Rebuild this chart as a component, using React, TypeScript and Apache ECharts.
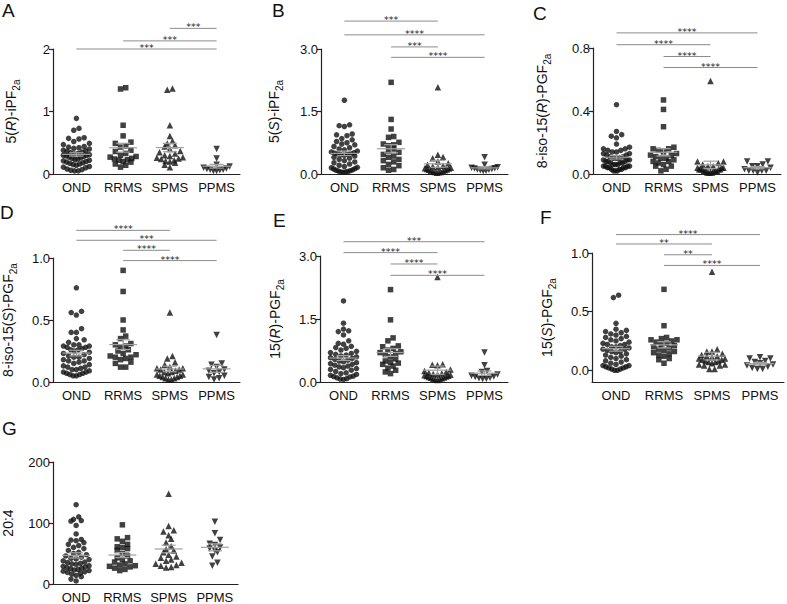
import React, { useEffect, useRef } from 'react';
import * as echarts from 'echarts';

const categories = ['OND', 'RRMS', 'SPMS', 'PPMS'];

// Panel A: 5(R)-iPF2a
const aOND = [0.89, 0.73, 0.70, 0.58, 0.57, 0.56, 0.52, 0.49, 0.47, 0.44, 0.43, 0.42, 0.41, 0.40, 0.38, 0.37, 0.36, 0.35, 0.34, 0.33, 0.32, 0.31, 0.30, 0.30, 0.29, 0.28, 0.27, 0.26, 0.25, 0.24, 0.23, 0.22, 0.21, 0.20, 0.19, 0.18, 0.17, 0.16, 0.15, 0.14, 0.12, 0.11, 0.10, 0.08, 0.07, 0.06, 0.05, 0.05];
const aRRMS = [1.38, 1.36, 0.78, 0.61, 0.51, 0.49, 0.45, 0.43, 0.38, 0.36, 0.33, 0.30, 0.28, 0.27, 0.25, 0.24, 0.23, 0.22, 0.20, 0.19, 0.16, 0.14, 0.11];
const aSPMS = [1.37, 1.35, 0.78, 0.61, 0.53, 0.49, 0.46, 0.44, 0.40, 0.37, 0.35, 0.33, 0.30, 0.29, 0.27, 0.26, 0.25, 0.24, 0.22, 0.21, 0.20, 0.18, 0.15, 0.11];
const aPPMS = [0.40, 0.25, 0.15, 0.12, 0.10, 0.09, 0.08, 0.07, 0.07, 0.06, 0.05, 0.05];

// Panel B: 5(S)-iPF2a
const bOND = [1.77, 1.18, 1.16, 1.14, 0.96, 0.94, 0.92, 0.85, 0.82, 0.78, 0.75, 0.72, 0.70, 0.66, 0.63, 0.60, 0.58, 0.55, 0.53, 0.51, 0.50, 0.49, 0.48, 0.47, 0.46, 0.45, 0.43, 0.40, 0.38, 0.35, 0.32, 0.29, 0.27, 0.24, 0.21, 0.18, 0.16, 0.15, 0.13, 0.12, 0.10, 0.09, 0.08, 0.07, 0.06, 0.05, 0.05, 0.04];
const bRRMS = [2.20, 1.31, 1.08, 0.90, 0.88, 0.76, 0.72, 0.70, 0.68, 0.60, 0.55, 0.52, 0.47, 0.43, 0.40, 0.35, 0.32, 0.29, 0.23, 0.20, 0.15, 0.11, 0.09];
const bSPMS = [2.08, 0.46, 0.41, 0.38, 0.30, 0.26, 0.22, 0.20, 0.18, 0.16, 0.15, 0.14, 0.13, 0.12, 0.11, 0.10, 0.09, 0.08, 0.07, 0.06, 0.05, 0.05, 0.04, 0.03];
const bPPMS = [0.40, 0.22, 0.16, 0.15, 0.14, 0.13, 0.12, 0.11, 0.10, 0.09, 0.08, 0.07];

// Panel C: 8-iso-15(R)-PGF2a
const cOND = [0.44, 0.27, 0.25, 0.24, 0.23, 0.19, 0.17, 0.16, 0.16, 0.15, 0.15, 0.14, 0.14, 0.13, 0.13, 0.12, 0.12, 0.11, 0.11, 0.10, 0.10, 0.10, 0.09, 0.09, 0.09, 0.08, 0.08, 0.08, 0.07, 0.07, 0.07, 0.06, 0.06, 0.06, 0.05, 0.05, 0.05, 0.05, 0.04, 0.04, 0.04, 0.04, 0.03, 0.03, 0.03, 0.02, 0.02, 0.02];
const cRRMS = [0.47, 0.41, 0.30, 0.17, 0.16, 0.16, 0.15, 0.14, 0.13, 0.12, 0.12, 0.11, 0.10, 0.10, 0.09, 0.08, 0.08, 0.07, 0.06, 0.05, 0.05, 0.03, 0.02];
const cSPMS = [0.59, 0.08, 0.08, 0.07, 0.06, 0.05, 0.05, 0.04, 0.04, 0.04, 0.03, 0.03, 0.03, 0.03, 0.03, 0.02, 0.02, 0.02, 0.02, 0.02, 0.01, 0.01, 0.01, 0.01];
const cPPMS = [0.08, 0.08, 0.06, 0.05, 0.05, 0.04, 0.03, 0.02, 0.02, 0.02, 0.02, 0.01];

// Panel D: 8-iso-15(S)-PGF2a
const dOND = [0.76, 0.57, 0.56, 0.54, 0.43, 0.40, 0.40, 0.35, 0.34, 0.32, 0.30, 0.30, 0.29, 0.29, 0.28, 0.28, 0.27, 0.26, 0.26, 0.25, 0.24, 0.23, 0.22, 0.21, 0.20, 0.20, 0.19, 0.18, 0.17, 0.17, 0.16, 0.15, 0.14, 0.13, 0.12, 0.12, 0.11, 0.10, 0.10, 0.09, 0.08, 0.08, 0.07, 0.07, 0.06, 0.06, 0.05, 0.05];
const dRRMS = [0.90, 0.73, 0.50, 0.42, 0.37, 0.35, 0.31, 0.30, 0.29, 0.28, 0.26, 0.25, 0.23, 0.22, 0.21, 0.20, 0.20, 0.19, 0.18, 0.16, 0.15, 0.12, 0.12];
const dSPMS = [0.56, 0.21, 0.19, 0.16, 0.14, 0.12, 0.11, 0.11, 0.10, 0.10, 0.09, 0.08, 0.08, 0.07, 0.06, 0.06, 0.05, 0.05, 0.04, 0.04, 0.03, 0.03, 0.02, 0.02];
const dPPMS = [0.38, 0.15, 0.14, 0.12, 0.10, 0.09, 0.08, 0.07, 0.05, 0.04, 0.03, 0.02];

// Panel E: 15(R)-PGF2a
const eOND = [1.93, 1.40, 1.26, 1.22, 1.20, 1.12, 0.98, 0.92, 0.90, 0.85, 0.82, 0.80, 0.76, 0.73, 0.70, 0.68, 0.66, 0.64, 0.62, 0.60, 0.58, 0.56, 0.54, 0.52, 0.50, 0.48, 0.46, 0.44, 0.42, 0.40, 0.38, 0.36, 0.34, 0.32, 0.30, 0.28, 0.25, 0.22, 0.20, 0.18, 0.16, 0.14, 0.13, 0.12, 0.10, 0.08, 0.07, 0.06];
const eRRMS = [2.20, 1.48, 1.05, 0.98, 0.86, 0.84, 0.80, 0.76, 0.72, 0.70, 0.68, 0.65, 0.60, 0.55, 0.50, 0.47, 0.45, 0.42, 0.38, 0.33, 0.28, 0.24, 0.20];
const eSPMS = [2.50, 0.42, 0.41, 0.40, 0.30, 0.26, 0.24, 0.22, 0.20, 0.19, 0.18, 0.17, 0.16, 0.15, 0.14, 0.13, 0.12, 0.11, 0.10, 0.09, 0.08, 0.07, 0.06, 0.05];
const ePPMS = [0.70, 0.40, 0.26, 0.24, 0.18, 0.15, 0.13, 0.12, 0.10, 0.09, 0.08, 0.07];

// Panel F: 15(S)-PGF2a
const fOND = [0.64, 0.62, 0.40, 0.35, 0.34, 0.33, 0.32, 0.31, 0.30, 0.29, 0.28, 0.27, 0.26, 0.25, 0.24, 0.23, 0.22, 0.22, 0.21, 0.20, 0.20, 0.19, 0.18, 0.18, 0.17, 0.16, 0.16, 0.15, 0.14, 0.13, 0.12, 0.11, 0.10, 0.09, 0.08, 0.07, 0.06, 0.05, 0.04, 0.04, 0.03, 0.03, 0.02, 0.02, 0.01, 0.01, 0.00, 0.00];
const fRRMS = [0.69, 0.38, 0.28, 0.27, 0.26, 0.26, 0.25, 0.24, 0.23, 0.22, 0.21, 0.20, 0.19, 0.18, 0.17, 0.16, 0.15, 0.14, 0.13, 0.12, 0.10, 0.09, 0.06];
const fSPMS = [0.84, 0.18, 0.16, 0.16, 0.14, 0.13, 0.12, 0.12, 0.11, 0.10, 0.10, 0.09, 0.09, 0.08, 0.08, 0.07, 0.07, 0.06, 0.05, 0.05, 0.04, 0.04, 0.01, 0.01];
const fPPMS = [0.11, 0.10, 0.10, 0.08, 0.07, 0.06, 0.05, 0.04, 0.03, 0.02, 0.01, 0.01];

// Panel G: 20:4
const gOND = [130, 110, 106, 104, 103, 96, 82, 73, 72, 71, 68, 65, 63, 60, 58, 55, 52, 50, 48, 46, 44, 42, 41, 40, 38, 36, 35, 34, 33, 32, 30, 29, 28, 27, 26, 25, 24, 23, 22, 21, 20, 19, 18, 16, 14, 12, 8, 5];
const gRRMS = [97, 76, 74, 70, 65, 61, 60, 58, 55, 50, 46, 43, 40, 38, 36, 33, 31, 30, 29, 28, 26, 24, 22];
const gSPMS = [148, 95, 88, 86, 80, 74, 68, 62, 57, 55, 52, 48, 45, 43, 40, 38, 35, 33, 31, 30, 28, 27];
const gPPMS = [102, 83, 72, 66, 64, 60, 58, 55, 52, 45, 35, 30];

// Y tick values
const yTicksA = [0, 1, 2];
const yTicksB = [0, 1.5, 3];
const yTicksC = [0, 0.4, 0.8];
const yTicksD = [0, 0.5, 1];
const yTicksE = [0, 1.5, 3];
const yTicksF = [0, 0.5, 1];
const yTicksG = [0, 100, 200];

// Significance comparisons: [fromGroup, toGroup, height (axis units), label]
const sigA: [number, number, number, string][] = [[0, 3, 2.0, '***'], [1, 3, 2.13, '***'], [2, 3, 2.33, '***']];
const sigB: [number, number, number, string][] = [[1, 3, 2.8, '****'], [1, 2, 3.05, '***'], [0, 3, 3.34, '****'], [0, 2, 3.67, '***']];
const sigC: [number, number, number, string][] = [[1, 3, 0.676, '****'], [1, 2, 0.746, '****'], [0, 2, 0.821, '****'], [0, 3, 0.896, '****']];
const sigD: [number, number, number, string][] = [[1, 3, 0.979, '****'], [1, 2, 1.062, '****'], [0, 3, 1.143, '***'], [0, 2, 1.223, '****']];
const sigE: [number, number, number, string][] = [[1, 3, 2.54, '****'], [1, 2, 2.81, '****'], [0, 2, 3.08, '****'], [0, 3, 3.34, '***']];
const sigF: [number, number, number, string][] = [[1, 3, 0.894, '****'], [1, 2, 0.985, '**'], [0, 2, 1.077, '**'], [0, 3, 1.157, '****']];
const sigG: [number, number, number, string][] = [];

const FONT = "'Liberation Sans', Arial, Helvetica, sans-serif";
const STAR_FONT = "'DejaVu Sans', 'Liberation Sans', sans-serif";

const PANELS = [
  { letter: 'A', lx: 2, ly: 1, left: 53, top: 49, width: 187, height: 125, min: 0, max: 2, ticks: yTicksA, dec: 0, nameGap: 32,
    name: '{n|5(}{i|R}{n|)-iPF}{s|2a}', groups: [aOND, aRRMS, aSPMS, aPPMS], sig: sigA },
  { letter: 'B', lx: 272, ly: 1, left: 321, top: 49, width: 187, height: 125, min: 0, max: 3, ticks: yTicksB, dec: 1, nameGap: 37,
    name: '{n|5(}{i|S}{n|)-iPF}{s|2a}', groups: [bOND, bRRMS, bSPMS, bPPMS], sig: sigB },
  { letter: 'C', lx: 533, ly: 4, left: 593, top: 48, width: 188, height: 126, min: 0, max: 0.8, ticks: yTicksC, dec: 1, nameGap: 41,
    name: '{n|8-iso-15(}{i|R}{n|)-PGF}{s|2a}', groups: [cOND, cRRMS, cSPMS, cPPMS], sig: sigC },
  { letter: 'D', lx: 0, ly: 203, left: 52, top: 258, width: 188, height: 124, min: 0, max: 1, ticks: yTicksD, dec: 1, nameGap: 35,
    name: '{n|8-iso-15(}{i|S}{n|)-PGF}{s|2a}', groups: [dOND, dRRMS, dSPMS, dPPMS], sig: sigD },
  { letter: 'E', lx: 273, ly: 211, left: 320, top: 256, width: 188, height: 126, min: 0, max: 3, ticks: yTicksE, dec: 1, nameGap: 35,
    name: '{n|15(}{i|R}{n|)-PGF}{s|2a}', groups: [eOND, eRRMS, eSPMS, ePPMS], sig: sigE },
  { letter: 'F', lx: 540, ly: 208, left: 592, top: 253, width: 192, height: 129, min: -0.1, max: 1, ticks: yTicksF, dec: 1, nameGap: 35,
    name: '{n|15(}{i|S}{n|)-PGF}{s|2a}', groups: [fOND, fRRMS, fSPMS, fPPMS], sig: sigF },
  { letter: 'G', lx: 2, ly: 419, left: 52, top: 462, width: 186, height: 122, min: 0, max: 200, ticks: yTicksG, dec: 0, nameGap: 35,
    name: '{n|20:4}', groups: [gOND, gRRMS, gSPMS, gPPMS], sig: sigG },
];

const SYMBOLS = [
  { symbol: 'circle', size: 5.5, rotate: 0 },
  { symbol: 'rect', size: 5.5, rotate: 0 },
  { symbol: 'triangle', size: 6.5, rotate: 0 },
  { symbol: 'triangle', size: 6.5, rotate: 180 },
];

// Prism-like row layout: values within one marker height share a row, spread side by side
function rowLayout(values: number[], pxPerY: number, pxPerX: number, d: number, maxHalf: number): number[] {
  const order = values.map((_, i) => i).sort((a, b) => values[a] - values[b]);
  const xs: number[] = new Array(values.length).fill(0);
  let bin: number[] = [];
  let start = -Infinity;
  const flush = () => {
    const k = bin.length;
    if (!k) return;
    const s = k > 1 ? Math.min(d, (2 * maxHalf) / (k - 1)) : 0;
    const slots = bin.map((_, j) => (j - (k - 1) / 2) * s);
    // centre-out assignment
    const ordered = slots.slice().sort((a, b) => Math.abs(a) - Math.abs(b) || a - b);
    bin.forEach((idx, j) => { xs[idx] = ordered[j] / pxPerX; });
  };
  for (const i of order) {
    const py = values[i] * pxPerY;
    if (py - start >= d) { flush(); bin = [i]; start = py; } else bin.push(i);
  }
  flush();
  return xs;
}

function meanSem(v: number[]) {
  const n = v.length;
  const m = v.reduce((s, x) => s + x, 0) / n;
  const sd = Math.sqrt(v.reduce((s, x) => s + (x - m) * (x - m), 0) / (n - 1));
  return [m, sd / Math.sqrt(n)];
}

function buildOption() {
  const grid: any[] = [];
  const xAxis: any[] = [];
  const yAxis: any[] = [];
  const series: any[] = [];
  const graphic: any[] = [];

  const nameRich = {
    n: { fontSize: 14, fontFamily: FONT, color: '#111', lineHeight: 20 },
    i: { fontSize: 14, fontFamily: FONT, color: '#111', fontStyle: 'italic', lineHeight: 20 },
    s: { fontSize: 10, fontFamily: FONT, color: '#111', verticalAlign: 'bottom', lineHeight: 12 },
  };

  PANELS.forEach((p, pi) => {
    grid.push({ left: p.left, top: p.top, width: p.width, height: p.height });
    xAxis.push({
      type: 'category', gridIndex: pi, data: categories, boundaryGap: true,
      axisLine: { onZero: false, lineStyle: { color: '#222', width: 1.2 } },
      axisTick: { show: false },
      axisLabel: { interval: 0, fontSize: 13, fontFamily: FONT, color: '#111', margin: 7 },
      splitLine: { show: false },
    });
    xAxis.push({ type: 'value', gridIndex: pi, min: -0.5, max: 3.5, show: false,
      axisLine: { show: false, onZero: false }, splitLine: { show: false } });
    const yA: any = {
      type: 'value', gridIndex: pi, min: p.min, max: p.max,
      name: p.name, nameLocation: 'middle', nameGap: p.nameGap,
      nameTextStyle: { rich: nameRich, fontFamily: FONT, fontSize: 14, color: '#111' },
      axisLine: { show: true, onZero: false, lineStyle: { color: '#222', width: 1.2 } },
      axisTick: { show: true, length: 4, lineStyle: { color: '#222', width: 1.2 }, customValues: p.ticks },
      axisLabel: { fontSize: 13, fontFamily: FONT, color: '#111', margin: 3, customValues: p.ticks,
        formatter: (v: number) => Number(v).toFixed(p.dec) },
      splitLine: { show: false },
    };
    if (p.min === p.ticks[0]) yA.interval = p.ticks[1] - p.ticks[0];
    yAxis.push(yA);

    const pxPerY = p.height / (p.max - p.min);
    const pxPerX = p.width / 4;

    p.groups.forEach((vals, g) => {
      const off = rowLayout(vals, pxPerY, pxPerX, 5.2, 13);
      const sym = SYMBOLS[g];
      series.push({
        type: 'scatter', xAxisIndex: pi * 2 + 1, yAxisIndex: pi, silent: true,
        symbol: sym.symbol, symbolSize: sym.size, symbolRotate: sym.rotate,
        itemStyle: { color: '#111' }, z: 2,
        data: vals.map((v, i) => [g + off[i], v]),
      });
    });

    const stats = p.groups.map((vals, g) => { const [m, s] = meanSem(vals); return [g, m, s]; });
    series.push({
      type: 'custom', xAxisIndex: pi * 2 + 1, yAxisIndex: pi, silent: true, z: 3,
      dimensions: ['g', 'mean', 'sem'], encode: { x: 0, y: 1 },
      data: stats,
      renderItem: (params: any, api: any) => {
        const g = api.value(0), m = api.value(1), s = api.value(2);
        const c = api.coord([g, m]);
        const t = api.coord([g, m + s]);
        const b = api.coord([g, m - s]);
        const style = { stroke: '#a0a0a0', lineWidth: 1.2 };
        return {
          type: 'group', children: [
            { type: 'line', shape: { x1: c[0] - 14, y1: c[1], x2: c[0] + 14, y2: c[1] }, style },
            { type: 'line', shape: { x1: c[0], y1: t[1], x2: c[0], y2: b[1] }, style },
            { type: 'line', shape: { x1: c[0] - 7, y1: t[1], x2: c[0] + 7, y2: t[1] }, style },
            { type: 'line', shape: { x1: c[0] - 7, y1: b[1], x2: c[0] + 7, y2: b[1] }, style },
          ],
        };
      },
    });

    if (p.sig.length) {
      const sig = p.sig;
      series.push({
        type: 'custom', xAxisIndex: pi * 2 + 1, yAxisIndex: pi, silent: true, z: 4, clip: false,
        dimensions: ['from', 'to', 'h'], encode: { x: [0, 1], y: 2 },
        data: sig.map((s) => [s[0], s[1], s[2]]),
        renderItem: (params: any, api: any) => {
          const a = api.coord([api.value(0), api.value(2)]);
          const b = api.coord([api.value(1), api.value(2)]);
          const label = sig[params.dataIndex][3];
          return {
            type: 'group', children: [
              { type: 'line', shape: { x1: a[0], y1: a[1], x2: b[0], y2: b[1] }, style: { stroke: '#8c8c8c', lineWidth: 1 } },
              { type: 'text', x: (a[0] + b[0]) / 2, y: a[1] - 1.5,
                style: { text: label, fontSize: 9.5, fontFamily: STAR_FONT, fill: '#222', align: 'center', verticalAlign: 'middle' } },
            ],
          };
        },
      });
    }

    graphic.push({ type: 'text', left: p.lx, top: p.ly, silent: true,
      style: { text: p.letter, fontSize: 19, fontFamily: FONT, fill: '#111' } });
  });

  return { animation: false, backgroundColor: '#ffffff', grid, xAxis, yAxis, series, graphic };
}

export default function App() {
  const ref = useRef<HTMLDivElement>(null);
  useEffect(() => {
    if (!ref.current) return;
    const chart = echarts.init(ref.current, undefined, { renderer: 'svg' });
    chart.setOption(buildOption() as any);
    return () => chart.dispose();
  }, []);
  return <div ref={ref} style={{ position: 'fixed', left: 0, top: 0, width: 787, height: 604, background: '#fff' }} />;
}
